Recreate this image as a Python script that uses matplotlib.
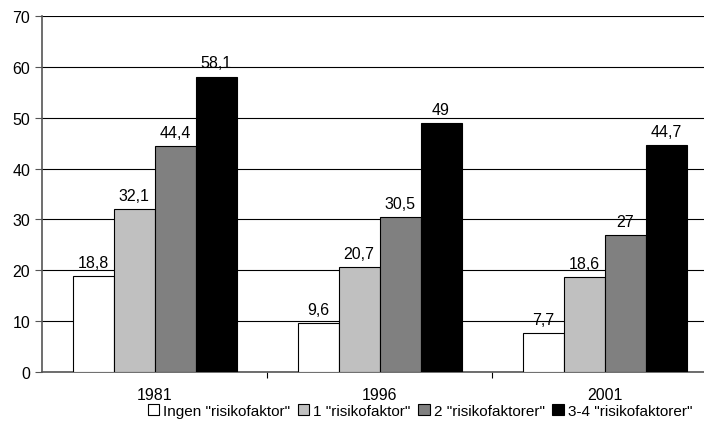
import numpy as np
import matplotlib.pyplot as plt
from matplotlib.patches import Patch

plt.rcParams['font.family'] = ['Liberation Sans', 'DejaVu Sans']

# Data
years = ['1981', '1996', '2001']
series_names = ['Ingen "risikofaktor"', '1 "risikofaktor"',
                '2 "risikofaktorer"', '3-4 "risikofaktorer"']
ingen = [18.8, 9.6, 7.7]
en = [32.1, 20.7, 18.6]
to = [44.4, 30.5, 27]
tre_fire = [58.1, 49, 44.7]
values = [ingen, en, to, tre_fire]
colors = ['white', '#c0c0c0', '#808080', 'black']

fig = plt.figure(figsize=(7.04, 4.39), dpi=100)
ax = fig.add_axes([42/704, 66/439, 675/704, 356/439])

x = np.arange(len(years))
w = 41/225
for i, vals in enumerate(values):
    pos = x + (i - 1.5) * w
    ax.bar(pos, vals, width=w, color=colors[i], edgecolor='black',
           linewidth=0.8, zorder=3)
    for p, v in zip(pos, vals):
        lab = ('%g' % v).replace('.', ',')
        ax.text(p, v + 1.2, lab, ha='center', va='bottom', fontsize=11.5)

ax.set_xlim(-0.5, 2.5)
ax.set_ylim(0, 70)
ax.set_yticks(range(0, 71, 10))
ax.yaxis.grid(True, color='black', linewidth=0.8, zorder=0)
ax.set_xticks([0.5, 1.5])
ax.set_xticklabels([])
ax.tick_params(axis='x', which='major', length=4, width=0.8, color='black')
ax.tick_params(axis='y', length=5, width=0.8, color='#555555', labelsize=11.5)

# year labels centred under each group
for xi, yr in zip(x, years):
    ax.text(xi, -0.062, yr, transform=ax.get_xaxis_transform(),
            ha='center', va='center', fontsize=11.5)

for s in ['top', 'right']:
    ax.spines[s].set_visible(False)
ax.spines['left'].set_color('#555555')
ax.spines['left'].set_linewidth(1.2)
ax.spines['bottom'].set_color('#555555')
ax.spines['bottom'].set_linewidth(1.2)

handles = [Patch(facecolor=c, edgecolor='black', linewidth=0.8) for c in colors]
fig.legend(handles, series_names, loc='center', bbox_to_anchor=(420/704, 1 - 412/439),
           ncol=4, frameon=False, fontsize=11, handlelength=0.75, handleheight=0.75,
           handletextpad=0.25, columnspacing=0.5)

fig.savefig('out.png', dpi=100)
